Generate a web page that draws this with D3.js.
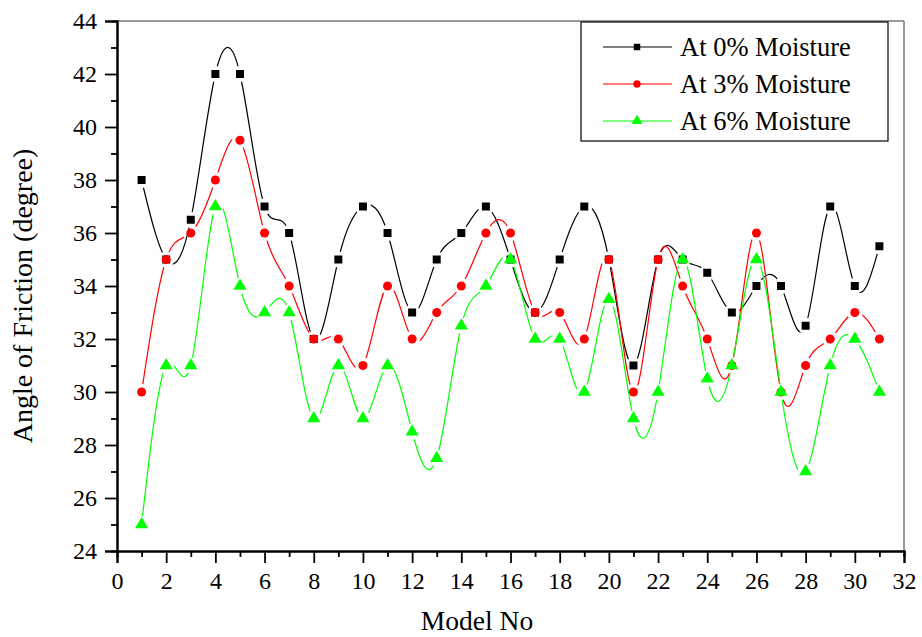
<!DOCTYPE html>
<html>
<head>
<meta charset="utf-8">
<script src="https://cdn.jsdelivr.net/npm/d3@7"></script>
<style>
  body { margin: 0; background: #fff; }
  svg text { font-family: "Liberation Serif", "Times New Roman", Times, "DejaVu Serif", serif; }
</style>
</head>
<body>
<div id="chart"></div>
<script>
const models = d3.range(1, 32);
const moisture0 = [38, 35, 36.5, 42, 42, 37, 36, 32, 35, 37, 36, 33, 35, 36, 37, 35, 33, 35, 37, 35, 31, 35, 35, 34.5, 33, 34, 34, 32.5, 37, 34, 35.5];
const moisture3 = [30, 35, 36, 38, 39.5, 36, 34, 32, 32, 31, 34, 32, 33, 34, 36, 36, 33, 33, 32, 35, 30, 35, 34, 32, 31, 36, 30, 31, 32, 33, 32];
const moisture6 = [25, 31, 31, 37, 34, 33, 33, 29, 31, 29, 31, 28.5, 27.5, 32.5, 34, 35, 32, 32, 30, 33.5, 29, 30, 35, 30.5, 31, 35, 30, 27, 31, 32, 30];
const seriesNames = ["At 0% Moisture", "At 3% Moisture", "At 6% Moisture"];
const seriesColors = ["#000000", "#ff0000", "#00ff00"];
const seriesSymbols = [d3.symbolSquare, d3.symbolCircle, d3.symbolTriangle];

const W = 922, H = 637;
const M = { LEFT: 117, RIGHT: 18, TOP: 21, BOTTOM: 86 };
const w = W - M.LEFT - M.RIGHT, h = H - M.TOP - M.BOTTOM;

const svg = d3.select("#chart").append("svg").attr("width", W).attr("height", H);
const g = svg.append("g").attr("transform", `translate(${M.LEFT},${M.TOP})`);

const x = d3.scaleLinear().domain([0, 32]).range([0, w]);
const y = d3.scaleLinear().domain([24, 44]).range([h, 0]);

// frame top/right
g.append("line").attr("x1", 0).attr("x2", w).attr("y1", 0).attr("y2", 0)
  .attr("stroke", "#777").attr("stroke-width", 1.5);
g.append("line").attr("x1", w).attr("x2", w).attr("y1", 0).attr("y2", h)
  .attr("stroke", "#777").attr("stroke-width", 1.5);

// axes: minor then major
const xAxisG = g.append("g").attr("transform", `translate(0,${h})`);
xAxisG.append("g").call(d3.axisBottom(x).tickValues(d3.range(1, 32, 2)).tickSize(6).tickFormat(""));
xAxisG.append("g").call(d3.axisBottom(x).tickValues(d3.range(0, 33, 2)).tickSize(12).tickPadding(9));
const yAxisG = g.append("g");
yAxisG.append("g").call(d3.axisLeft(y).tickValues(d3.range(25, 44, 2)).tickSize(6).tickFormat(""));
yAxisG.append("g").call(d3.axisLeft(y).tickValues(d3.range(24, 45, 2)).tickSize(12).tickPadding(8));
g.selectAll("g").attr("font-family", null);
g.selectAll(".domain").attr("stroke", "#000").attr("stroke-width", 2);
g.selectAll(".tick line").attr("stroke", "#000").attr("stroke-width", 1.8);
g.selectAll(".tick text").attr("font-size", 24).attr("fill", "#000");

// axis titles
svg.append("text").attr("x", 477).attr("y", 630)
  .attr("text-anchor", "middle").attr("font-size", 27.5).text("Model No");
svg.append("text").attr("transform", "translate(32,296) rotate(-90)")
  .attr("text-anchor", "middle").attr("font-size", 28).text("Angle of Friction (degree)");

// series
const allSeries = [moisture0, moisture3, moisture6];
const line = d3.line().x((d, i) => x(models[i])).y(d => y(d)).curve(d3.curveNatural);
const defs = svg.append("defs");

allSeries.forEach((vals, s) => {
  const mask = defs.append("mask").attr("id", "gap" + s)
    .attr("maskUnits", "userSpaceOnUse").attr("x", -M.LEFT).attr("y", -M.TOP).attr("width", W).attr("height", H);
  mask.append("rect").attr("x", -M.LEFT).attr("y", -M.TOP).attr("width", W).attr("height", H).attr("fill", "#fff");
  mask.selectAll("circle").data(vals).enter().append("circle")
    .attr("cx", (d, i) => x(models[i])).attr("cy", d => y(d)).attr("r", 8).attr("fill", "#000");
  g.append("path").datum(vals).attr("d", line)
    .attr("fill", "none").attr("stroke", seriesColors[s]).attr("stroke-width", 1.2)
    .attr("mask", `url(#gap${s})`);
});

allSeries.forEach((vals, s) => {
  g.selectAll(".pt" + s).data(vals).enter().append("path")
    .attr("transform", (d, i) => `translate(${x(models[i])},${y(d)})`)
    .attr("d", d3.symbol().type(seriesSymbols[s]).size(s === 2 ? 75 : 64))
    .attr("fill", seriesColors[s]);
});

// legend
const lg = svg.append("g").attr("transform", "translate(581,22)");
lg.append("rect").attr("width", 307).attr("height", 119)
  .attr("fill", "#fff").attr("stroke", "#000").attr("stroke-width", 1.2);
seriesNames.forEach((name, s) => {
  const ry = 25 + s * 37;
  lg.append("line").attr("x1", 22).attr("x2", 91).attr("y1", ry).attr("y2", ry)
    .attr("stroke", seriesColors[s]).attr("stroke-width", 1.2);
  lg.append("path").attr("transform", `translate(56,${ry})`)
    .attr("d", d3.symbol().type(seriesSymbols[s]).size(s === 2 ? 50 : 42))
    .attr("fill", seriesColors[s]);
  lg.append("text").attr("x", 99).attr("y", ry + 9).attr("font-size", 26.5).text(name);
});
</script>
</body>
</html>
